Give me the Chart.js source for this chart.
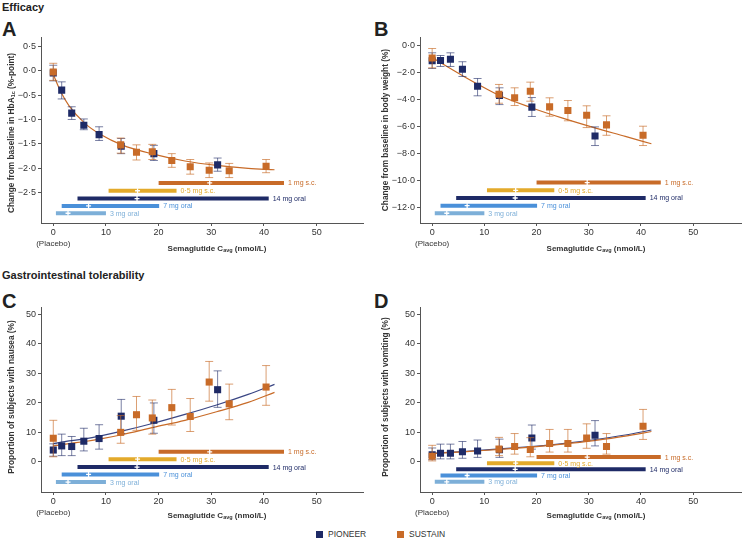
<!DOCTYPE html>
<html lang="en">
<head>
  <meta charset="UTF-8" />
  <title>Semaglutide exposure-response</title>
  <script src="https://cdn.jsdelivr.net/npm/chart.js"></script>
  <style>
    * { margin: 0; padding: 0; box-sizing: border-box; }
    body {
      width: 747px; height: 539px; position: relative; overflow: hidden;
      background: #fff; color: #222;
      font-family: 'Liberation Sans', Arial, sans-serif;
    }
    canvas { position: absolute; }
    .hd { position: absolute; font-size: 11px; font-weight: bold; }
    .lt { position: absolute; font-size: 20px; font-weight: bold; line-height: 1; }
    .ytitle, .xtitle {
      position: absolute; font-weight: bold; white-space: nowrap;
      color: #333; z-index: 2;
    }
    .ytitle { font-size: 8.3px; transform: translate(-50%, -50%) rotate(-90deg); }
    .xtitle { font-size: 8px; transform: translate(-50%, -50%); }
    sub { font-size: 5.5px; vertical-align: -1px; }
    .legend { position: absolute; top: 529px; font-size: 8.5px; color: #333; display: flex; align-items: center; }
    .legend i { display: inline-block; width: 7px; height: 7px; margin-right: 5px; }
  </style>
</head>
<body>
  <div class="hd" style="left:2px; top:1px;">Efficacy</div>
  <div class="lt" style="left:2px; top:19px;">A</div>
  <div class="lt" style="left:374px; top:19px;">B</div>
  <div class="hd" style="left:2px; top:269px;">Gastrointestinal tolerability</div>
  <div class="lt" style="left:2px; top:291px;">C</div>
  <div class="lt" style="left:374px; top:291px;">D</div>

  <canvas id="cA" width="370" height="225" style="left:0; top:30px;"></canvas>
  <canvas id="cB" width="377" height="225" style="left:370px; top:30px;"></canvas>
  <canvas id="cC" width="370" height="235" style="left:0; top:290px;"></canvas>
  <canvas id="cD" width="377" height="235" style="left:370px; top:290px;"></canvas>

  <div class="ytitle" style="left:11px; top:133px;">Change from baseline in HbA<sub>1c</sub> (%-point)</div>
  <div class="ytitle" style="left:385px; top:130px;">Change from baseline in body weight (%)</div>
  <div class="ytitle" style="left:11px; top:397px;">Proportion of subjects with nausea (%)</div>
  <div class="ytitle" style="left:385px; top:397px;">Proportion of subjects with vomiting (%)</div>

  <div class="xtitle" style="left:217px; top:248px;">Semaglutide C<sub>avg</sub> (nmol/L)</div>
  <div class="xtitle" style="left:596px; top:248px;">Semaglutide C<sub>avg</sub> (nmol/L)</div>
  <div class="xtitle" style="left:217px; top:515px;">Semaglutide C<sub>avg</sub> (nmol/L)</div>
  <div class="xtitle" style="left:596px; top:515px;">Semaglutide C<sub>avg</sub> (nmol/L)</div>

  <div class="legend" style="left:316px;"><i style="background:#1e2a66"></i>PIONEER</div>
  <div class="legend" style="left:397px;"><i style="background:#c86b28"></i>SUSTAIN</div>

  <script>
    // concentration groups (nmol/L), shared by all four panels
    const pioneerConc = [0, 1.6, 3.5, 5.8, 8.7, 12.9, 19.1, 31.2];
    const sustainConc = [0, 12.8, 15.8, 18.8, 22.5, 26.0, 29.6, 33.4, 40.4];
    const curveConc = [0, 1.5, 3, 6, 9, 13, 19, 25, 31, 37, 42];

    // dose exposure ranges
    const doseNames = ['1 mg s.c.', '0·5 mg s.c.', '14 mg oral', '7 mg oral', '3 mg oral'];
    const doseMin = [20.0, 10.5, 4.6, 1.6, 0.5];
    const doseMedian = [29.7, 16.0, 15.9, 6.7, 2.8];
    const doseMax = [43.8, 23.4, 40.9, 20.1, 10.0];

    const xTicks = [0, 10, 20, 30, 40, 50];
    const aYTicks = [0.5, 0, -0.5, -1, -1.5, -2, -2.5];
    const bYTicks = [0, -2, -4, -6, -8, -10, -12];
    const giYTicks = [0, 10, 20, 30, 40, 50];

    // A: HbA1c
    const aPioneerY  = [-0.05, -0.40, -0.87, -1.12, -1.31, -1.55, -1.70, -1.93];
    const aPioneerLo = [-0.21, -0.58, -1.00, -1.21, -1.43, -1.70, -1.84, -2.06];
    const aPioneerHi = [0.11, -0.23, -0.74, -0.99, -1.15, -1.39, -1.53, -1.79];
    const aSustainY  = [-0.03, -1.52, -1.67, -1.66, -1.84, -1.97, -2.04, -2.05, -1.96];
    const aSustainLo = [-0.20, -1.69, -1.83, -1.82, -1.98, -2.12, -2.19, -2.19, -2.09];
    const aSustainHi = [0.15, -1.38, -1.52, -1.51, -1.70, -1.82, -1.89, -1.90, -1.82];
    const aCurveSustain = [-0.08, -0.45, -0.72, -1.08, -1.31, -1.52, -1.71, -1.85, -1.94, -2.0, -2.03];
    const aDoseY = [-2.30, -2.46, -2.62, -2.77, -2.92];

    // B: body weight
    const bPioneerY  = [-1.16, -1.14, -1.04, -1.78, -3.04, -3.73, -4.59, -6.72];
    const bPioneerLo = [-1.73, -1.58, -1.58, -2.32, -3.75, -4.40, -5.28, -7.43];
    const bPioneerHi = [-0.57, -0.77, -0.57, -1.23, -2.47, -3.16, -3.88, -6.05];
    const bSustainY  = [-0.96, -3.63, -3.90, -3.41, -4.57, -4.84, -5.19, -5.90, -6.67];
    const bSustainLo = [-1.68, -4.30, -4.47, -4.15, -5.26, -5.60, -6.10, -6.67, -7.43];
    const bSustainHi = [-0.25, -2.91, -3.16, -2.74, -3.90, -4.10, -4.49, -5.23, -6.00];
    const bCurveSustain = [-0.9, -1.27, -1.62, -2.3, -2.95, -3.75, -4.63, -5.4, -6.1, -6.75, -7.3];
    const bDoseY = [-10.17, -10.74, -11.31, -11.88, -12.44];

    // C: nausea
    const cPioneerY  = [3.9, 5.3, 5.1, 6.9, 7.8, 15.4, 14.0, 24.4];
    const cPioneerLo = [1.8, 2.0, 2.0, 3.6, 4.2, 9.5, 9.6, 18.4];
    const cPioneerHi = [6.0, 9.3, 8.5, 11.3, 12.5, 21.1, 19.9, 30.8];
    const cSustainY  = [7.9, 9.9, 15.9, 14.8, 18.3, 15.3, 27.0, 19.6, 25.3];
    const cSustainLo = [1.6, 6.2, 10.6, 9.3, 12.4, 10.2, 20.5, 14.2, 19.1];
    const cSustainHi = [14.0, 15.6, 22.1, 20.9, 24.5, 21.4, 34.0, 26.3, 32.6];
    const cCurvePioneer = [6.1, 6.6, 7.0, 7.7, 8.7, 10.3, 13.0, 16.0, 19.2, 22.8, 26.2];
    const cCurveSustain = [5.3, 5.7, 6.1, 6.8, 7.7, 9.1, 11.6, 14.0, 16.9, 20.1, 23.5];
    const cDoseY = [3.3, 0.8, -1.9, -4.4, -7.0];

    // D: vomiting
    const dPioneerY  = [2.3, 2.8, 2.8, 3.3, 3.6, 4.0, 8.0, 8.9];
    const dPioneerLo = [0.6, 0.9, 0.9, 1.1, 1.4, 1.4, 4.2, 5.3];
    const dPioneerHi = [4.6, 5.9, 5.9, 6.8, 7.3, 7.6, 12.4, 13.9];
    const dSustainY  = [1.8, 4.2, 5.1, 4.1, 6.1, 6.1, 8.0, 5.1, 12.0];
    const dSustainLo = [0.2, 2.0, 2.5, 1.6, 3.2, 3.2, 4.5, 2.5, 7.5];
    const dSustainHi = [5.5, 8.2, 9.5, 8.1, 10.9, 10.9, 12.8, 9.5, 17.7];
    const dCurvePioneer = [2.8, 2.95, 3.1, 3.4, 3.8, 4.3, 5.1, 6.1, 7.4, 9.0, 10.7];
    const dCurveSustain = [2.7, 2.85, 3.0, 3.3, 3.65, 4.1, 4.9, 5.9, 7.1, 8.6, 10.2];
    const dDoseY = [1.5, -0.55, -2.65, -4.75, -6.9];

    const NAVY = '#1e2a66';
    const ORANGE = '#c86b28';
    const doseColors = ['#c86b28', '#e3aa2b', '#1e2a66', '#4a90d9', '#7dafd8'];
    const FONT = "'Liberation Sans', Arial, sans-serif";
    const AXIS = '#555';

    const pts = (xs, ys) => xs.map((x, i) => ({ x, y: ys[i] }));

    const extras = {
      id: 'extras',
      beforeDatasetDraw(chart, args) {
        const ds = chart.data.datasets[args.index];
        if (!ds.errLo) return;
        const { ctx } = chart;
        const sx = chart.scales.x, sy = chart.scales.y;
        ctx.save();
        ctx.strokeStyle = ds.errColor;
        ctx.lineWidth = 1;
        ds.data.forEach((p, i) => {
          const px = sx.getPixelForValue(p.x);
          const lo = sy.getPixelForValue(ds.errLo[i]);
          const hi = sy.getPixelForValue(ds.errHi[i]);
          ctx.beginPath();
          ctx.moveTo(px, lo); ctx.lineTo(px, hi);
          ctx.moveTo(px - 4, lo); ctx.lineTo(px + 4, lo);
          ctx.moveTo(px - 4, hi); ctx.lineTo(px + 4, hi);
          ctx.stroke();
        });
        ctx.restore();
      },
      afterDatasetsDraw(chart) {
        const { ctx, chartArea } = chart;
        const sx = chart.scales.x, sy = chart.scales.y;
        ctx.save();
        ctx.font = '7px ' + FONT;
        ctx.textBaseline = 'middle';
        ctx.textAlign = 'left';
        chart.data.datasets.forEach(ds => {
          if (!ds.doseLabel) return;
          const end = ds.data[1];
          ctx.fillStyle = ds.borderColor;
          ctx.fillText(ds.doseLabel, sx.getPixelForValue(end.x) + 4, sy.getPixelForValue(end.y) + 0.5);
        });
        ctx.font = '8px ' + FONT;
        ctx.fillStyle = '#333';
        ctx.textAlign = 'center';
        ctx.fillText('(Placebo)', sx.getPixelForValue(0), chartArea.bottom + 21);
        ctx.restore();
      }
    };

    function makePanel(cfg) {
      const datasets = [];
      datasets.push({
        data: pts(sustainConc, cfg.sus[0]), errLo: cfg.sus[1], errHi: cfg.sus[2],
        errColor: 'rgba(200,107,40,0.65)', backgroundColor: ORANGE, borderWidth: 0,
        pointStyle: 'rect', pointRadius: 5
      });
      datasets.push({
        data: pts(pioneerConc, cfg.pio[0]), errLo: cfg.pio[1], errHi: cfg.pio[2],
        errColor: 'rgba(30,42,102,0.6)', backgroundColor: NAVY, borderWidth: 0,
        pointStyle: 'rect', pointRadius: 5
      });
      datasets.push({
        data: pts(doseMedian, cfg.doseY), pointStyle: 'cross', pointRadius: 2.5,
        borderColor: '#fff', borderWidth: 1.3
      });
      doseNames.forEach((name, i) => {
        datasets.push({
          data: [{ x: doseMin[i], y: cfg.doseY[i] }, { x: doseMax[i], y: cfg.doseY[i] }],
          showLine: true, borderColor: doseColors[i], borderWidth: 4, pointRadius: 0,
          doseLabel: name
        });
      });
      if (cfg.curveSus) datasets.push({
        data: pts(curveConc, cfg.curveSus), showLine: true, borderColor: ORANGE,
        borderWidth: 1.2, pointRadius: 0, cubicInterpolationMode: 'monotone'
      });
      if (cfg.curvePio) datasets.push({
        data: pts(curveConc, cfg.curvePio), showLine: true, borderColor: '#3a4684',
        borderWidth: 1.2, pointRadius: 0, cubicInterpolationMode: 'monotone'
      });

      const fmt = v => cfg.dec ? v.toFixed(1).replace('.', '·').replace('-', '−') : String(v);

      new Chart(document.getElementById(cfg.id), {
        type: 'scatter',
        data: { datasets },
        options: {
          responsive: false,
          animation: false,
          events: [],
          layout: { padding: { top: cfg.padTop, right: cfg.padRight, left: 0, bottom: 0 } },
          plugins: { legend: { display: false }, tooltip: { enabled: false } },
          scales: {
            x: {
              type: 'linear', min: -2.33, max: cfg.xMax,
              afterBuildTicks: s => { s.ticks = xTicks.map(v => ({ value: v })); },
              afterFit: s => { s.height = cfg.xh; },
              ticks: { color: '#333', font: { size: 9, family: FONT }, padding: 1, maxRotation: 0 },
              grid: { display: true, drawOnChartArea: false, drawTicks: true, tickLength: 3, color: AXIS },
              border: { display: true, color: AXIS, width: 1 }
            },
            y: {
              type: 'linear', min: cfg.yMin, max: cfg.yMax,
              afterBuildTicks: s => { s.ticks = cfg.yTicks.map(v => ({ value: v })); },
              afterFit: s => { s.width = cfg.yw; },
              ticks: { color: '#333', font: { size: 9, family: FONT }, padding: 2, callback: fmt },
              grid: { display: true, drawOnChartArea: false, drawTicks: true, tickLength: 3, color: AXIS },
              border: { display: true, color: AXIS, width: 1 }
            }
          }
        },
        plugins: [extras]
      });
    }

    makePanel({ id: 'cA', xMax: 58.8, yMin: -3.12, yMax: 0.68, yTicks: aYTicks, dec: true,
      yw: 41, xh: 32, padTop: 7, padRight: 7,
      pio: [aPioneerY, aPioneerLo, aPioneerHi], sus: [aSustainY, aSustainLo, aSustainHi],
      curveSus: aCurveSustain, doseY: aDoseY });
    makePanel({ id: 'cB', xMax: 59.3, yMin: -13.16, yMax: 0.57, yTicks: bYTicks, dec: true,
      yw: 50, xh: 32, padTop: 7, padRight: 2,
      pio: [bPioneerY, bPioneerLo, bPioneerHi], sus: [bSustainY, bSustainLo, bSustainHi],
      curveSus: bCurveSustain, doseY: bDoseY });
    makePanel({ id: 'cC', xMax: 58.8, yMin: -10.36, yMax: 52.5, yTicks: giYTicks, dec: false,
      yw: 41, xh: 33, padTop: 17, padRight: 7,
      pio: [cPioneerY, cPioneerLo, cPioneerHi], sus: [cSustainY, cSustainLo, cSustainHi],
      curveSus: cCurveSustain, curvePio: cCurvePioneer, doseY: cDoseY });
    makePanel({ id: 'cD', xMax: 59.3, yMin: -10.36, yMax: 52.5, yTicks: giYTicks, dec: false,
      yw: 50, xh: 33, padTop: 17, padRight: 2,
      pio: [dPioneerY, dPioneerLo, dPioneerHi], sus: [dSustainY, dSustainLo, dSustainHi],
      curveSus: dCurveSustain, curvePio: dCurvePioneer, doseY: dDoseY });
  </script>
</body>
</html>
